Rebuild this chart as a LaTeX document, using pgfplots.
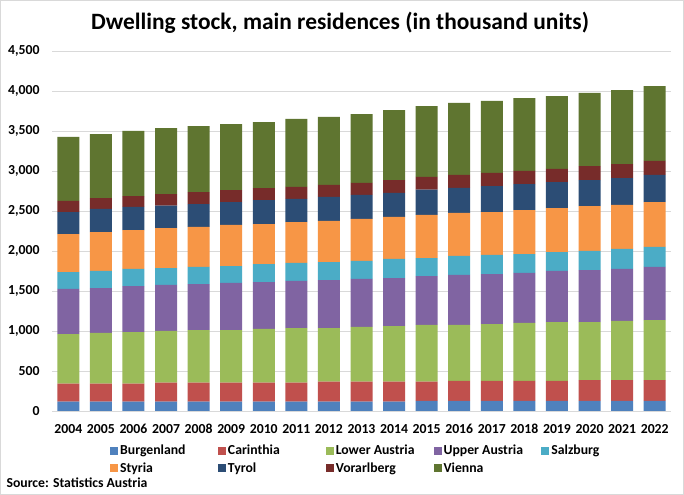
\documentclass[border=0pt]{standalone}
\usepackage{fontspec}
\setmainfont{Carlito}
\usepackage{pgfplots}
\usepackage{pgfplotstable}
\pgfplotsset{compat=1.18}

\definecolor{cBgld}{HTML}{4F81BD}
\definecolor{cKtn}{HTML}{C0504D}
\definecolor{cNOe}{HTML}{9BBB59}
\definecolor{cOOe}{HTML}{8064A2}
\definecolor{cSbg}{HTML}{4BACC6}
\definecolor{cStmk}{HTML}{F79646}
\definecolor{cTirol}{HTML}{2C4D75}
\definecolor{cVbg}{HTML}{772C2A}
\definecolor{cWien}{HTML}{5F7530}
\definecolor{gridgray}{HTML}{D9D9D9}

% main residences by province, thousand units
\pgfplotstableread{
year Bgld Ktn NOe OOe Sbg Stmk Tirol Vbg Wien
2004 117 225 620 563 212 475 275 138 800
2005 117 225 633 562 213 487 288 137 800
2006 117 225 645 575 213 487 288 137 813
2007 117 237 646 575 212 500 280 145 825
2008 117 237 658 575 213 500 287 150 825
2009 117 237 658 588 212 513 287 150 825
2010 117 237 671 587 225 500 300 150 825
2011 117 237 683 588 225 512 288 150 850
2012 117 250 670 600 225 513 300 150 850
2013 117 250 683 600 225 525 300 150 862
2014 117 250 695 600 238 525 300 162 875
2015 125 242 708 612 225 538 317 158 887
2016 125 252 698 625 240 535 315 160 900
2017 125 250 712 625 238 537 325 163 900
2018 125 250 725 625 237 550 325 163 912
2019 125 250 737 638 237 550 325 163 912
2020 125 262 725 650 238 562 325 175 913
2021 125 262 738 650 250 550 337 175 925
2022 125 262 750 663 250 562 338 175 937
}\stock

\newcommand{\legbox}[1]{\makebox[94.8bp][l]{#1}}
\newcommand{\lblfont}{\bfseries\fontsize{13.8}{16}\selectfont}

\begin{document}
\begin{tikzpicture}
\useasboundingbox (0,0) rectangle (684bp,495bp);
\fill[white] (0,0) rectangle (684bp,495bp);
\draw[gridgray, line width=0.8bp] (0.4bp,0.4bp) rectangle (683.6bp,494.6bp);

\node[font=\bfseries\fontsize{23.5}{28}\selectfont] at (340bp,472bp)
  {Dwelling stock, main residences (in thousand units)};

\begin{axis}[
  at={(52bp,84bp)}, anchor=south west,
  scale only axis, width=619bp, height=360bp,
  ybar stacked, bar width=22bp,
  xmin=-0.5, xmax=18.5, ymin=0, ymax=4500,
  ytick={0,500,...,4500},
  xtick={0,...,18},
  xticklabels={2004,2005,2006,2007,2008,2009,2010,2011,2012,2013,2014,2015,2016,2017,2018,2019,2020,2021,2022},
  axis line style={draw=none},
  tick style={draw=none},
  ymajorgrids, grid style={draw=gridgray, line width=0.8bp},
  /pgf/number format/assume math mode=true,
  /pgf/number format/1000 sep={,},
  yticklabel style={font=\lblfont, xshift=-9bp},
  xticklabel style={font=\lblfont, anchor=base, yshift=-22bp},
  legend columns=5,
  legend style={at={(0.0937,-0.089)}, anchor=north west, draw=none, fill=none,
    inner sep=0pt, font=\lblfont,
    /tikz/every even column/.append style={column sep=1bp},
    row sep=2.2bp},
  legend cell align=left,
  legend image code/.code={\fill[#1] (0bp,-3.8bp) rectangle (8bp,3.8bp);},
]
\addplot[fill=cBgld, draw=none] table[x expr=\coordindex, y=Bgld]{\stock};
\addlegendentry{\legbox{Burgenland}}
\addplot[fill=cKtn, draw=none] table[x expr=\coordindex, y=Ktn]{\stock};
\addlegendentry{\legbox{Carinthia}}
\addplot[fill=cNOe, draw=none] table[x expr=\coordindex, y=NOe]{\stock};
\addlegendentry{\legbox{Lower Austria}}
\addplot[fill=cOOe, draw=none] table[x expr=\coordindex, y=OOe]{\stock};
\addlegendentry{\legbox{Upper Austria}}
\addplot[fill=cSbg, draw=none] table[x expr=\coordindex, y=Sbg]{\stock};
\addlegendentry{\legbox{Salzburg}}
\addplot[fill=cStmk, draw=none] table[x expr=\coordindex, y=Stmk]{\stock};
\addlegendentry{\legbox{Styria}}
\addplot[fill=cTirol, draw=none] table[x expr=\coordindex, y=Tirol]{\stock};
\addlegendentry{\legbox{Tyrol}}
\addplot[fill=cVbg, draw=none] table[x expr=\coordindex, y=Vbg]{\stock};
\addlegendentry{\legbox{Vorarlberg}}
\addplot[fill=cWien, draw=none] table[x expr=\coordindex, y=Wien]{\stock};
\addlegendentry{\legbox{Vienna}}
\end{axis}

\node[anchor=west, font=\lblfont] at (3bp,12bp)
  {Source: Statistics Austria};
\end{tikzpicture}
\end{document}
